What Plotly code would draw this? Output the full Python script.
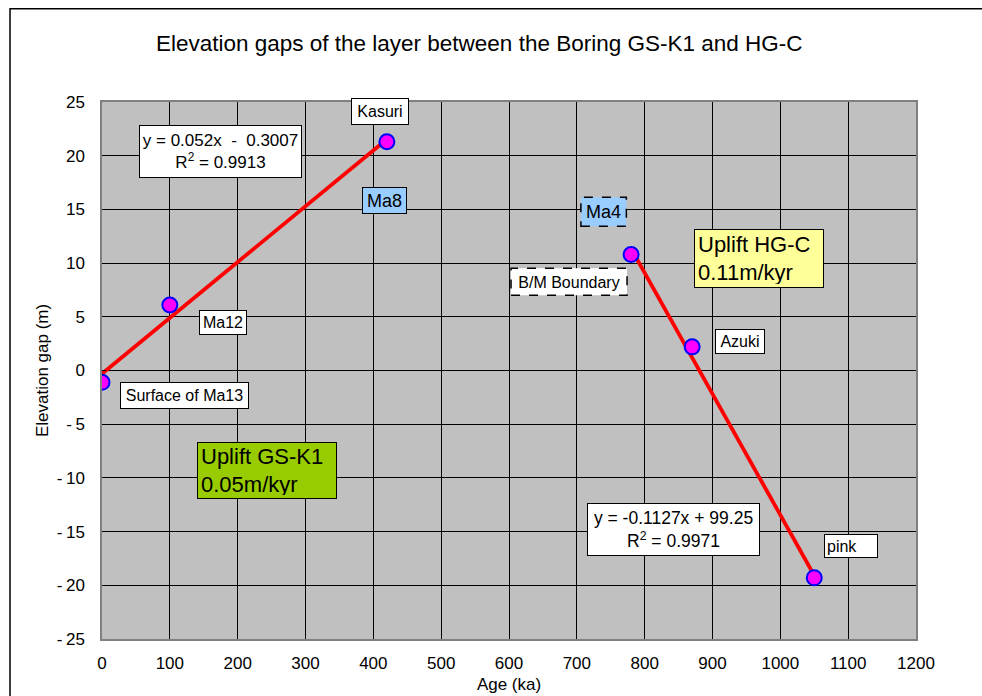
import plotly.graph_objects as go

# Dated horizons: age (ka) and elevation gap (m)
gs_names = ["Surface of Ma13", "Ma12", "Kasuri"]
gs_age = [0, 100, 420]
gs_gap = [-1.1, 6.1, 21.3]

hg_names = ["B/M Boundary", "Azuki", "pink"]
hg_age = [780, 870, 1050]
hg_gap = [10.8, 2.2, -19.3]

# Linear fits (slope, intercept, R^2)
gs_fit = [0.052, -0.3007, 0.9913]
hg_fit = [-0.1127, 99.25, 0.9971]

x_ticks = list(range(0, 1201, 100))
y_ticks = list(range(-25, 26, 5))

FONT = "Liberation Sans, Arial, sans-serif"

fig = go.Figure()


def fit_line(ages, fit):
    xs = [min(ages), max(ages)]
    ys = [fit[0] * x + fit[1] for x in xs]
    return xs, ys


for ages, fit in [(gs_age, gs_fit), (hg_age, hg_fit)]:
    fx, fy = fit_line(ages, fit)
    fig.add_trace(go.Scatter(x=fx, y=fy, mode="lines",
                             line=dict(color="#FF0000", width=3.8),
                             hoverinfo="skip", showlegend=False))

fig.add_trace(go.Scatter(
    x=gs_age + hg_age, y=gs_gap + hg_gap, hovertext=gs_names + hg_names,
    mode="markers",
    marker=dict(size=15, color="#FF00FF", line=dict(color="#0000FF", width=2)),
    showlegend=False))


def box(x, y, text, w, h, bg="white", size=16, align="center", border=True, pad=0):
    fig.add_annotation(
        x=x, y=y, xref="x", yref="y", text=text, showarrow=False,
        font=dict(family=FONT, size=size, color="black"),
        bgcolor=bg, bordercolor="black" if border else "rgba(0,0,0,0)",
        borderwidth=1 if border else 0, borderpad=pad,
        width=w - 2 * pad, height=h - 2 * pad, align=align, valign="middle")


def dashed_box(x0, x1, y0, y1, fill):
    fig.add_shape(type="rect", xref="x", yref="y", x0=x0, x1=x1, y0=y0, y1=y1,
                  fillcolor=fill, line=dict(color="black", width=1.5, dash="dash"),
                  layer="above")


# point labels
box(410, 24.16, "Kasuri", 56, 25)
box(178, 4.48, "Ma12", 46, 23)
box(121, -2.33, "Surface of Ma13", 127, 25)
box(941, 2.71, "Azuki", 48, 23)
box(1104, -16.32, "pink", 52, 22, align="left", pad=2)

# stage labels
box(417, 15.86, "Ma8", 43, 25, bg="#99CCFF", size=18)
dashed_box(706, 773, 13.43, 16.14, "#99CCFF")
box(740, 14.83, "Ma4", 43, 27, bg="rgba(0,0,0,0)", size=18, border=False)
dashed_box(603, 774, 7.0, 9.51, "white")
box(688, 8.21, "B/M Boundary", 114, 25, bg="rgba(0,0,0,0)", size=16, border=False)

# fit equations
box(174, 20.43,
    f"y = {gs_fit[0]}x  -  {abs(gs_fit[1])}<br>R<sup>2</sup> = {gs_fit[2]}",
    161, 51, size=17)
box(842, -14.83,
    f"y = {hg_fit[0]}x + {hg_fit[1]}<br>R<sup>2</sup> = {hg_fit[2]}",
    171, 51, size=17.5)

# uplift rates
box(969, 10.45, f"Uplift HG-C<br>0.{round(abs(hg_fit[0]) * 100):02d}m/kyr",
    128, 57, bg="#FFFF99", size=22, align="left", pad=3)
box(243, -9.33, f"Uplift GS-K1<br>0.{round(gs_fit[0] * 100):02d}m/kyr",
    138, 55, bg="#99CC00", size=22, align="left", pad=3)

# outer chart frame
fig.add_shape(type="rect", xref="paper", yref="paper",
              x0=-0.113, x1=1.3, y0=-0.3, y1=1.1735,
              line=dict(color="black", width=1.5), fillcolor="rgba(0,0,0,0)",
              layer="below")

fig.update_xaxes(
    range=[0, 1200], tickvals=x_ticks, ticktext=[str(v) for v in x_ticks],
    showgrid=True, gridcolor="black", gridwidth=1, zeroline=False,
    showline=True, linecolor="#808080", linewidth=1.5, mirror=True,
    ticks="", ticklabelstandoff=8, automargin=False,
    tickfont=dict(family=FONT, size=17, color="black"),
    title=dict(text="Age (ka)", font=dict(family=FONT, size=17, color="black"),
               standoff=6))
fig.update_yaxes(
    range=[-25, 25], tickvals=y_ticks,
    ticktext=[("-\u2009" + str(-v)) if v < 0 else str(v) for v in y_ticks],
    showgrid=True, gridcolor="black", gridwidth=1, zeroline=False,
    showline=True, linecolor="#808080", linewidth=1.5, mirror=True,
    ticks="inside", ticklen=4, tickcolor="black", ticklabelstandoff=12,
    automargin=False,
    tickfont=dict(family=FONT, size=17, color="black"),
    title=dict(text="Elevation gap (m)", font=dict(family=FONT, size=17, color="black"),
               standoff=4))

fig.update_layout(
    width=982, height=696,
    margin=dict(l=102, r=66, t=102, b=57, pad=0),
    paper_bgcolor="white", plot_bgcolor="#C0C0C0",
    title=dict(text="Elevation gaps of the layer between the Boring GS-K1 and HG-C",
               x=0.488, xanchor="center", y=0.938, yanchor="middle",
               font=dict(family=FONT, size=22.5, color="black")),
    showlegend=False)

fig.write_html("out.html")
